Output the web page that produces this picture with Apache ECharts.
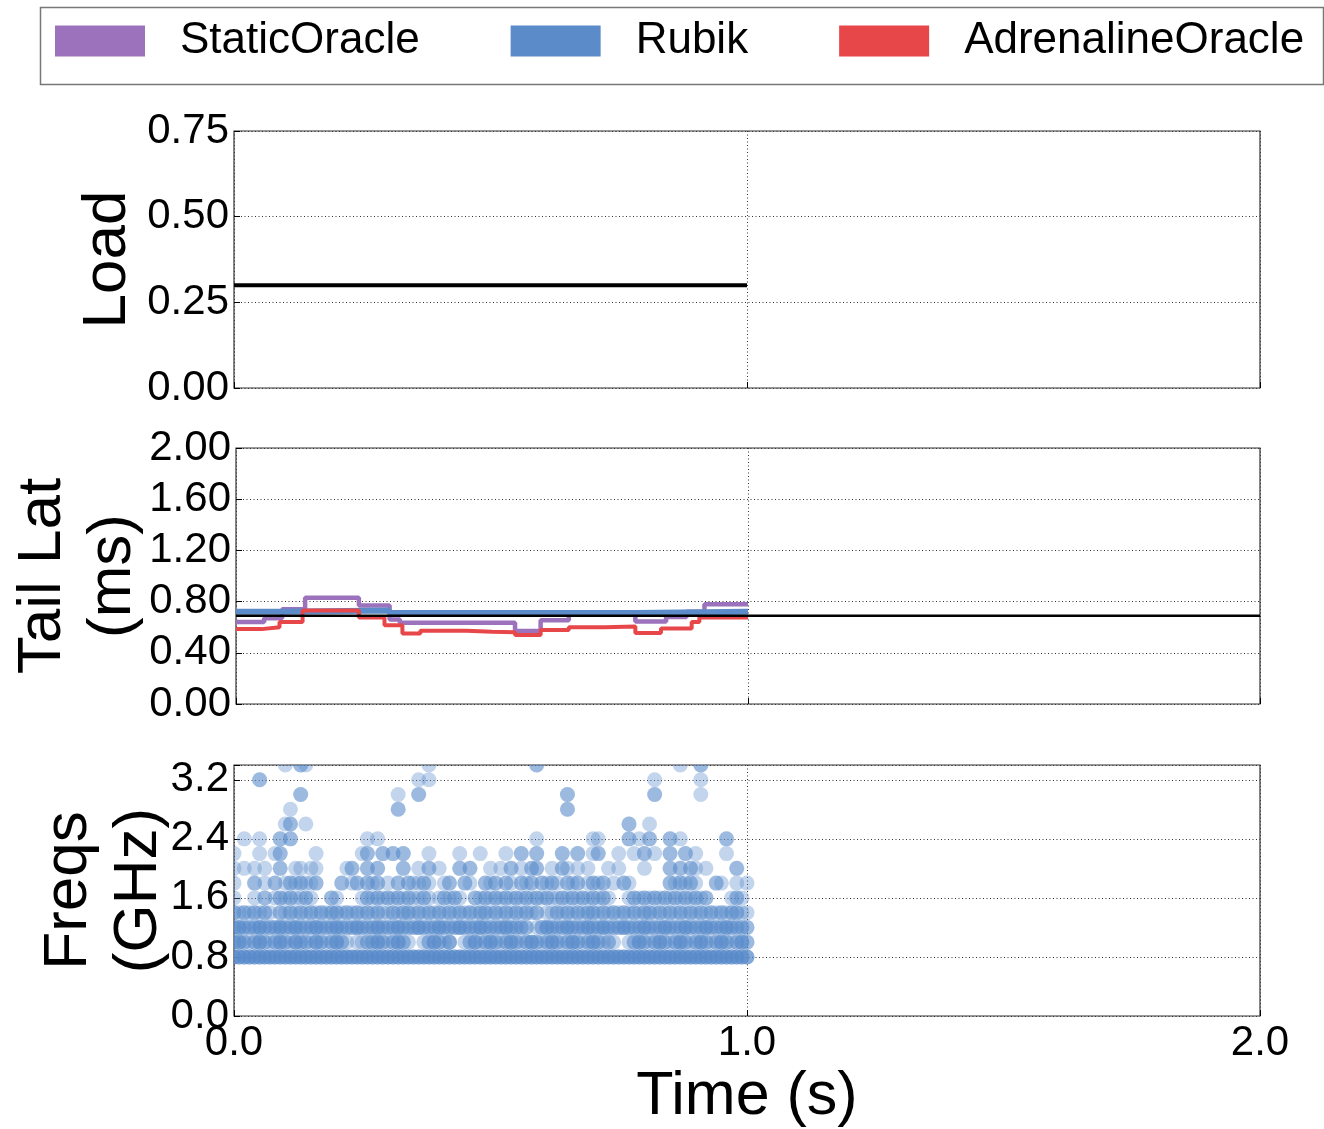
<!DOCTYPE html>
<html>
<head>
<meta charset="utf-8">
<script src="https://cdn.jsdelivr.net/npm/echarts@6/dist/echarts.min.js"></script>
<style>
  html, body { margin: 0; padding: 0; background: #fff; }
  #chart { width: 1324px; height: 1129px; }
</style>
</head>
<body>
<div id="chart"></div>
<script>
// ---- data -------------------------------------------------------------
const policyNames = ['StaticOracle', 'Rubik', 'AdrenalineOracle'];

// offered load (fraction of peak)
const loadTime = [0, 1.0];
const loadValue = [0.30, 0.30];

// tail-latency target (ms)
const targetTime = [0, 2.0];
const targetValue = [0.69, 0.69];

// tail latency per policy (ms), held constant until the next change point
const staticTime = [0, 0.055, 0.09, 0.135, 0.24, 0.30, 0.32, 0.545, 0.595, 0.65, 0.78, 0.84, 0.88, 0.915, 1.0];
const staticLat  = [0.64, 0.67, 0.74, 0.83, 0.77, 0.66, 0.635, 0.57, 0.655, 0.715, 0.645, 0.68, 0.72, 0.78, 0.78];

const rubikTime = [0, 0.09, 0.30, 0.78, 1.0];
const rubikLat  = [0.72, 0.73, 0.71, 0.72, 0.72];

const adrenalineTime = [0, 0.05, 0.085, 0.13, 0.24, 0.29, 0.325, 0.36, 0.45, 0.50, 0.545, 0.595, 0.65, 0.72, 0.78, 0.83, 0.89, 0.905, 1.0];
const adrenalineLat  = [0.585, 0.60, 0.64, 0.73, 0.675, 0.615, 0.55, 0.572, 0.565, 0.56, 0.54, 0.578, 0.60, 0.605, 0.555, 0.59, 0.64, 0.675, 0.675];

// Rubik core frequencies (GHz): one row per DVFS level, one digit per 10 ms
// sample = number of cores at that level during the sample
const freqSampleStep = 0.01;
const freqLevels = [3.4, 3.2, 3.0, 2.8, 2.6, 2.4, 2.2, 2.0, 1.8, 1.6, 1.4, 1.2, 1.0, 0.8];
const freqOccupancy = [
  '0000000000 1002100000 0000000000 0000000010 0000000000 0000000002 0000000000 0000000000 0000000100 0200000000 0',
  '0000020000 0000000000 0000000000 0000001010 0000000000 0000000000 0000000000 0000000000 0010000000 0100000000 0',
  '0000000000 0002000000 0000000000 0010002000 0000000000 0000000000 0000020000 0000000000 0020000000 0100000000 0',
  '0000000000 0100000000 0000000000 0020000000 0000000000 0000000000 0000020000 0000000000 0000000000 0000000000 0',
  '0000000000 1200100000 0000000000 0000000000 0000000000 0000000000 0000000000 0000000200 0100000000 0000000000 0',
  '0010010002 0200000000 0000001010 0000000000 0000000000 0000000001 0000000000 1100000201 0200020100 0000002000 0',
  '1000010012 0000001000 0000012002 0202000010 0000100010 0001002002 0000200200 1200010010 2010020020 1000001000 0',
  '1010101002 0011011000 0012002020 0002001020 1000202000 1010201022 0010210101 0001010000 1000020202 1010000020 0',
  '1000201020 1212112000 0201202120 1020211210 0120021002 1202102120 2121021201 2120102100 0000021212 1000210010 1',
  '1000102012 1211210002 1000012121 2121211210 1212100212 1212121212 1211212121 2121000121 2121212121 2120000121 0',
  '2121212102 1212121212 2121212121 1212212121 2121212122 1212121212 0112121212 2121212121 2212121212 1212121221 1',
  '2322232223 2232223222 3222322232 2232223222 3222322232 2223222201 2322232223 2232223222 3222322232 2232223222 2',
  '2321232123 2132213212 3210112232 1232100123 2130012312 3212321232 1232123212 3212100123 2123212321 2321232123 2',
  '3333333333 3333333333 3333333333 3333333333 3333333333 3333333333 3333333333 3333333333 3333333333 3333333333 3'
];

// axis ticks
const timeTicks = [0, 1.0, 2.0];
const loadTicks = [0, 0.25, 0.50, 0.75];
const latTicks  = [0, 0.40, 0.80, 1.20, 1.60, 2.00];
const freqTicks = [0, 0.8, 1.6, 2.4, 3.2];
const freqAxisMax = 3.4;

// ---- styling ------------------------------------------------------------
const FONT = '"Liberation Sans", Arial, Helvetica, sans-serif';
const policyColors = ['#9c72bd', '#5b8bc8', '#e8474a'];
const dotFill = 'rgba(90, 139, 201, 0.36)';
const gridDots = { color: '#333', width: 1, type: [1, 2.5] };

const zip = (xs, ys) => xs.map((x, i) => [x, ys[i]]);

// expand occupancy rows into individual points
const freqPoints = [];
freqLevels.forEach((level, r) => {
  const digits = freqOccupancy[r].replace(/\s+/g, '');
  for (let i = 0; i < digits.length; i++) {
    const n = +digits[i];
    for (let k = 0; k < n; k++) freqPoints.push([i * freqSampleStep, level]);
  }
});

const grids = [
  { left: 234, right: 64, top: 131, height: 257 },
  { left: 234, right: 64, top: 448, height: 256 },
  { left: 234, right: 64, top: 765, height: 255 }
].map(g => Object.assign(g, { show: true, borderColor: '#333', borderWidth: 1.2, backgroundColor: 'transparent' }));

const xAxes = [0, 1, 2].map(k => ({
  type: 'value', gridIndex: k,
  min: timeTicks[0], max: timeTicks[timeTicks.length - 1], interval: timeTicks[1] - timeTicks[0],
  axisLine: { show: false },
  axisTick: { show: true, inside: true, length: 6, lineStyle: { color: '#000' } },
  splitLine: { show: true, lineStyle: gridDots },
  axisLabel: {
    show: k === 2, fontSize: 42, fontFamily: FONT, color: '#000', margin: 6,
    formatter: v => v.toFixed(1)
  },
  name: k === 2 ? 'Time (s)' : '',
  nameLocation: 'middle', nameGap: 51, nameMoveOverlap: false,
  nameTextStyle: { fontSize: 61, fontFamily: FONT, color: '#000' }
}));

function yAxis(k, ticks, max, digits, name, gap) {
  return {
    type: 'value', gridIndex: k,
    min: ticks[0], max: max, interval: ticks[1] - ticks[0],
    axisLine: { show: false },
    axisTick: { show: true, inside: true, length: 6, lineStyle: { color: '#000' } },
    splitLine: { show: true, lineStyle: gridDots },
    axisLabel: {
      fontSize: 42, fontFamily: FONT, color: '#000', margin: 5, align: 'right',
      formatter: v => (v > ticks[ticks.length - 1] + 1e-9 ? '' : v.toFixed(digits))
    },
    name: name, nameLocation: 'middle', nameRotate: 90, nameGap: gap, nameMoveOverlap: false,
    nameTextStyle: { fontSize: 62, lineHeight: 70, fontFamily: FONT, color: '#000' }
  };
}

const yAxes = [
  yAxis(0, loadTicks, loadTicks[loadTicks.length - 1], 2, 'Load', 91),
  yAxis(1, latTicks, latTicks[latTicks.length - 1], 2, 'Tail Lat\n(ms)', 88),
  yAxis(2, freqTicks, freqAxisMax, 1, 'Freqs\n(GHz)', 60)
];

function stepLine(name, xs, ys, color, width) {
  return {
    name: name, type: 'line', xAxisIndex: 1, yAxisIndex: 1,
    data: zip(xs, ys), step: 'end', showSymbol: false, symbol: 'none',
    color: color, itemStyle: { color: color },
    lineStyle: { color: color, width: width }, silent: true
  };
}

const option = {
  animation: false,
  backgroundColor: '#fff',
  textStyle: { fontFamily: FONT },
  grid: grids,
  xAxis: xAxes,
  yAxis: yAxes,
  legend: {
    data: policyNames.map((n, i) => ({ name: n, itemStyle: { color: policyColors[i], borderWidth: 0 } })),
    icon: 'rect', selectedMode: false,
    left: 55, top: 19, padding: 0,
    itemWidth: 90, itemHeight: 31, itemGap: 91,
    itemStyle: { borderWidth: 0 },
    textStyle: { fontSize: 44, fontFamily: FONT, color: '#000', padding: [0, 0, 0, 30] }
  },
  graphic: [{
    type: 'rect', left: 38, top: 5, silent: true,
    shape: { width: 1283, height: 77 },
    style: { fill: 'none', stroke: '#777', lineWidth: 1.5 }
  }],
  series: [
    {
      name: 'load', type: 'line', xAxisIndex: 0, yAxisIndex: 0,
      data: zip(loadTime, loadValue), showSymbol: false, symbol: 'none',
      lineStyle: { color: '#000', width: 4 }, color: '#000', silent: true
    },
    stepLine(policyNames[0], staticTime, staticLat, policyColors[0], 4.5),
    stepLine(policyNames[1], rubikTime, rubikLat, policyColors[1], 6),
    stepLine(policyNames[2], adrenalineTime, adrenalineLat, policyColors[2], 4),
    {
      name: 'target', type: 'line', xAxisIndex: 1, yAxisIndex: 1,
      data: zip(targetTime, targetValue), showSymbol: false, symbol: 'none',
      lineStyle: { color: '#000', width: 2.5 }, color: '#000', silent: true
    },
    {
      name: policyNames[1], type: 'custom', xAxisIndex: 2, yAxisIndex: 2,
      data: freqPoints, clip: true, silent: true,
      encode: { x: 0, y: 1 },
      color: policyColors[1],
      renderItem: (params, api) => {
        const p = api.coord([api.value(0), api.value(1)]);
        return { type: 'circle', shape: { cx: p[0], cy: p[1], r: 7.5 }, style: { fill: dotFill } };
      }
    }
  ]
};

const chart = echarts.init(document.getElementById('chart'), null, { renderer: 'canvas' });
chart.setOption(option);
</script>
</body>
</html>
